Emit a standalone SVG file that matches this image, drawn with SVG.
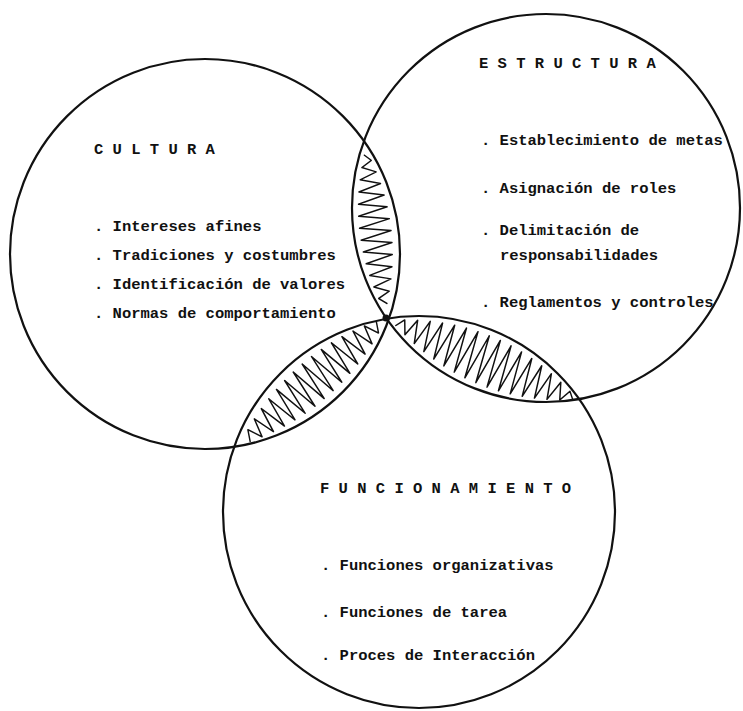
<svg xmlns="http://www.w3.org/2000/svg" width="743" height="711" viewBox="0 0 743 711">
<style>
.ring{fill:none;stroke:#111;stroke-width:2.2}
.hatch{fill:none;stroke:#111;stroke-width:1.5;stroke-linejoin:round;stroke-linecap:round}
.t{font-family:"Liberation Mono","DejaVu Sans Mono",monospace;font-size:15.5px;font-weight:bold;fill:#111}
</style>
<defs>
<clipPath id="clipC"><circle cx="205" cy="254" r="195"/></clipPath>
<clipPath id="clipE"><circle cx="546" cy="208" r="194"/></clipPath>
<clipPath id="clipF"><circle cx="419" cy="512" r="196"/></clipPath>
</defs>
<rect width="743" height="711" fill="#fff"/>
<g id="hatching">
<g clip-path="url(#clipC)"><g clip-path="url(#clipE)">
<polyline class="hatch" transform="translate(365,143) rotate(83.2) scale(1,0.8)" points="12,2.7 18,-5.3 24,7.6 30,-9.7 36,11.6 42,-13.4 48,14.9 54,-16.1 60,17.2 66,-18.1 72,18.8 78,-19.2 84,19.5 90,-19.5 96,19.3 102,-18.9 108,18.3 114,-17.5 120,16.5 126,-15.3 132,13.9 138,-12.2 144,10.4 150,-8.3 156,6.1 162,-3.6"/>
</g></g>
<g clip-path="url(#clipC)"><g clip-path="url(#clipF)">
<polyline class="hatch" transform="translate(240,445) rotate(-41) scale(1,0.8)" points="10,5 16,-8 22,10.5 28,-13 34,15 40,-17 46,18.7 52,-20.2 58,21.5 64,-22.6 70,23.6 76,-24.3 82,25 88,-25.2 94,25.4 100,-25.4 106,25.2 112,-25 118,24.3 124,-23.6 130,22.6 136,-21.5 142,20.2 148,-18.7 154,17 160,-15 166,13 172,-10.5 178,8 184,-5"/>
</g></g>
<g clip-path="url(#clipE)"><g clip-path="url(#clipF)">
<polyline class="hatch" transform="translate(386,318) rotate(23.1) scale(1,0.9)" points="12,3.4 18,-6.2 24,8.9 30,-11.5 36,13.8 42,-15.9 48,17.9 54,-19.6 60,21.2 66,-22.6 72,23.8 78,-24.8 84,25.6 90,-26.2 96,26.7 102,-26.9 108,27 114,-26.9 120,26.6 126,-26.1 132,25.4 138,-24.5 144,23.4 150,-22.2 156,20.7 162,-19.1 168,17.2 174,-15.2 180,13 186,-10.6 192,8.1 198,-5.3 204,2.3"/>
</g></g>
</g>
<g id="cultura">
<circle class="ring" cx="205" cy="254" r="195"/>
<text class="t" x="94" y="154" xml:space="preserve">C U L T U R A</text>
<text class="t" x="94" y="231">. Intereses afines</text>
<text class="t" x="94" y="260">. Tradiciones y costumbres</text>
<text class="t" x="94" y="289">. Identificación de valores</text>
<text class="t" x="94" y="318">. Normas de comportamiento</text>
</g>
<g id="estructura">
<circle class="ring" cx="546" cy="208" r="194"/>
<text class="t" x="479" y="68" xml:space="preserve">E S T R U C T U R A</text>
<text class="t" x="481" y="145">. Establecimiento de metas</text>
<text class="t" x="481" y="193">. Asignación de roles</text>
<text class="t" x="481" y="235">. Delimitación de</text>
<text class="t" x="500" y="260">responsabilidades</text>
<text class="t" x="481" y="307">. Reglamentos y controles</text>
</g>
<g id="funcionamiento">
<circle class="ring" cx="419" cy="512" r="196"/>
<text class="t" x="320" y="493" xml:space="preserve">F U N C I O N A M I E N T O</text>
<text class="t" x="321" y="570">. Funciones organizativas</text>
<text class="t" x="321" y="617">. Funciones de tarea</text>
<text class="t" x="321" y="660">. Proces de Interacción</text>
</g>
<g id="connectors">
<circle cx="386" cy="318" r="3.5" fill="#111"/>
</g>
</svg>
